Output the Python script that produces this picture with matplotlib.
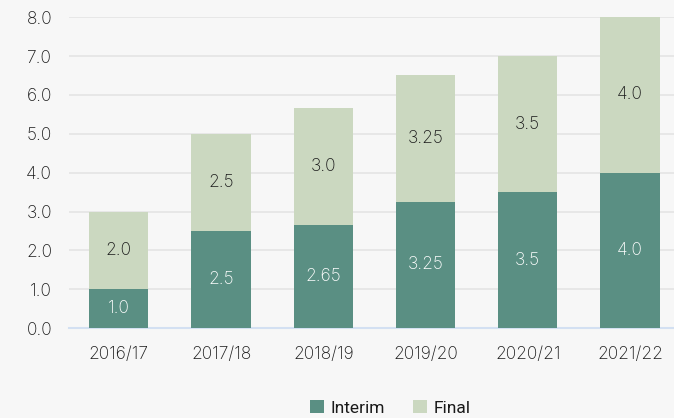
import matplotlib
matplotlib.use('Agg')
import matplotlib.pyplot as plt
import numpy as np

years = ["2016/17", "2017/18", "2018/19", "2019/20", "2020/21", "2021/22"]
interim = [1.0, 2.5, 2.65, 3.25, 3.5, 4.0]
final = [2.0, 2.5, 3.0, 3.25, 3.5, 4.0]
interim_labels = ["1.0", "2.5", "2.65", "3.25", "3.5", "4.0"]
final_labels = ["2.0", "2.5", "3.0", "3.25", "3.5", "4.0"]

plt.rcParams['font.family'] = ['Inter', 'DejaVu Sans']
plt.rcParams['font.weight'] = 'light'

bg = "#f7f7f7"
fig = plt.figure(figsize=(6.74, 4.18), dpi=100, facecolor=bg)
ax = fig.add_axes([0.102, 0.215, 0.898, 0.744], facecolor=bg)

x = np.arange(len(years))
w = 0.58
b1 = ax.bar(x, interim, w, color="#5a8f83", label="Interim", zorder=3)
b2 = ax.bar(x, final, w, bottom=interim, color="#cbd8c0", label="Final", zorder=3)

fs = 12.5
for i in range(len(years)):
    ax.text(x[i], interim[i] / 2, interim_labels[i], ha="center", va="center",
            color="white", fontsize=fs, fontweight="light", zorder=4)
    ax.text(x[i], interim[i] + final[i] / 2, final_labels[i], ha="center", va="center",
            color="#1a1a1a", fontsize=fs, fontweight="light", zorder=4)

ax.set_ylim(0, 8)
ax.set_xlim(-0.49, 5.43)
ax.set_yticks(np.arange(0, 9, 1))
ax.set_yticklabels([f"{v:.1f}" for v in range(9)], fontweight="light")
ax.set_xticks(x)
ax.set_xticklabels(years, fontweight="light")
ax.tick_params(axis="both", length=0, labelsize=fs, colors="#1a1a1a")
ax.tick_params(axis="y", pad=12)
ax.tick_params(axis="x", pad=13)
ax.yaxis.grid(True, color="#e4e4e4", linewidth=1.2, zorder=0)
for s in ["top", "right", "left"]:
    ax.spines[s].set_visible(False)
ax.spines["bottom"].set_color("#d3e0f2")
ax.spines["bottom"].set_linewidth(1.5)

leg = fig.legend(handles=[b1, b2], loc="center", bbox_to_anchor=(0.579, 0.024), ncol=2,
                 frameon=False, handlelength=0.8, handleheight=0.8,
                 handletextpad=0.4, columnspacing=1.6,
                 prop={'family': ['Roboto', 'DejaVu Sans'], 'size': 12.5, 'weight': 'normal'})
for t in leg.get_texts():
    t.set_color("#1a1a1a")

fig.savefig("out.png", dpi=100, facecolor=bg)
